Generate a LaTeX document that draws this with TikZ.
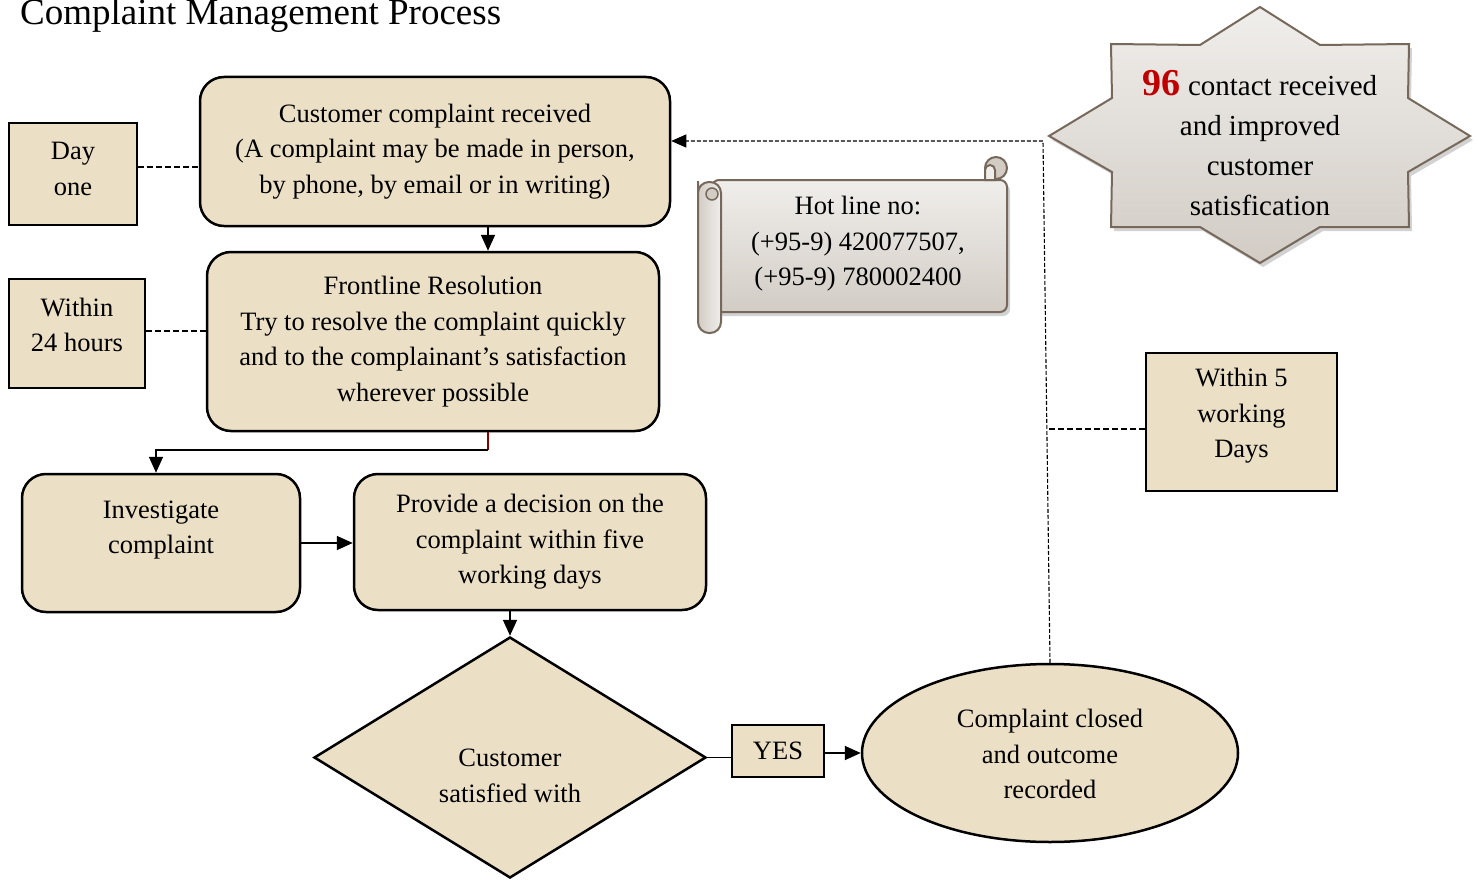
\documentclass[tikz,border=0pt]{standalone}
\usepackage{fontspec}
\setmainfont{Liberation Serif}
\usetikzlibrary{arrows.meta,shapes.geometric,shadows,calc}
\definecolor{tanfill}{HTML}{EBDFC6}
\definecolor{grayedge}{HTML}{76695B}
\definecolor{graytop}{HTML}{F0EEEB}
\definecolor{graybot}{HTML}{D2CCC5}
\definecolor{darkred}{HTML}{C00000}
\begin{document}
\begin{tikzpicture}[x=1pt,y=-1pt,
  txt/.style={align=center, font=\fontsize{26.5}{35.5}\selectfont, inner sep=0pt},
  box/.style={txt, draw=black, fill=tanfill, line width=2.5pt, rounded corners=24pt},
  sq/.style={txt, draw=black, fill=tanfill, line width=2.8pt},
  arr/.style={line width=1.8pt, -{Triangle[length=16pt,width=14pt]}},
  dsh/.style={line width=1.6pt, dash pattern=on 6pt off 3pt},
  fdsh/.style={line width=1.1pt, dash pattern=on 4pt off 2pt},
  grayshape/.style={draw=grayedge, line width=2pt, top color=graytop, bottom color=graybot,
    drop shadow={shadow xshift=3pt, shadow yshift=-4pt, opacity=0.35}}]
\useasboundingbox (0,0) rectangle (1478,880);
\fill[white] (0,0) rectangle (1478,880);

% title
\node[anchor=base west, inner sep=0pt, font=\fontsize{37}{40}\selectfont] (title) at (20,25) {Complaint Management Process};

% left timing boxes
\node[sq, minimum width=128pt, minimum height=102pt] (d1) at (73,174) {};
\node[txt] (d1t) at (73,169) {Day\\one};
\node[sq, minimum width=136pt, minimum height=109pt] (w24) at (77,333.5) {};
\node[txt] (w24t) at (77,325) {Within\\24 hours};

% main process boxes
\node[box, minimum width=470pt, minimum height=149pt] (b1) at (435,151.5)
  {Customer complaint received\\(A complaint may be made in person,\\by phone, by email or in writing)};
\node[box, minimum width=452pt, minimum height=179pt] (b2) at (433,341.5)
  {Frontline Resolution\\Try to resolve the complaint quickly\\and to the complainant’s satisfaction\\wherever possible};
\node[box, minimum width=278pt, minimum height=138pt] (b3) at (161,543) {};
\node[txt] (b3t) at (161,530) {Investigate\\complaint};
\node[box, minimum width=352pt, minimum height=136pt] (b4) at (530,542)
  {Provide a decision on the\\complaint within five\\working days};

% decision
\node[diamond, draw=black, fill=tanfill, line width=2.5pt, minimum width=392pt, minimum height=241pt, inner sep=0pt] (dia) at (510,757.5) {};
\node[txt] (diat) at (510,776) {Customer\\satisfied with};

% YES and ellipse
\node[txt, draw=black, fill=tanfill, line width=1.5pt, minimum width=92pt, minimum height=52pt] (yes) at (778,751) {YES};
\node[ellipse, draw=black, fill=tanfill, line width=2.5pt, minimum width=376pt, minimum height=178pt, inner sep=0pt] (ell) at (1050,753) {};
\node[txt] (ellt) at (1050,754) {Complaint closed\\and outcome\\recorded};

% within 5 working days
\node[sq, minimum width=191pt, minimum height=138pt] (w5) at (1241.5,422) {};
\node[txt] (w5t) at (1241.5,416) {Within 5\\working\\Days};

% star
\path[grayshape] (1111,44) -- (1200,45) -- (1260,7) -- (1320,45) -- (1409,44) -- (1408,98)
  -- (1470,136) -- (1408,172) -- (1409,227) -- (1320,227) -- (1260,263) -- (1200,227)
  -- (1111,227) -- (1112,172) -- (1049,136) -- (1112,98) -- cycle;
\node[align=center, inner sep=0pt, font=\fontsize{29}{40}\selectfont] (star) at (1260,143)
  {{\color{darkred}\fontsize{38}{40}\selectfont\bfseries 96} contact received\\and improved\\customer\\satisfication};

% scroll
\path[grayshape, rounded corners=7pt] (712,180) -- (1007,180) -- (1007,312) -- (712,312) -- cycle;
\path[draw=grayedge, line width=2pt, fill=graybot] (996,168) circle[radius=11];
\path[draw=grayedge, line width=2pt, fill=graytop] (985,180) -- (985,170) arc[start angle=180, end angle=360, radius=5] -- (995,180) -- cycle;
\path[draw=grayedge, line width=2pt, left color=graybot, right color=graytop, rounded corners=11pt]
  (698,192) -- (698,333) -- (721,333) -- (721,182) -- (698,182) -- cycle;
\path[draw=grayedge, line width=1.5pt, fill=graybot] (712,194) circle[radius=6];
\node[txt] (hot) at (858,244) {Hot line no:\\(+95-9) 420077507,\\(+95-9) 780002400};

% connectors
\coordinate (cx1) at (488,0);
\coordinate (cx3) at (156,450);
\draw[arr] (b1.south -| cx1) -- (b2.north -| cx1);
\draw[line width=1.2pt, darkred!70!black] (b2.south -| cx1) -- (cx1 |- cx3);
\draw[arr] (cx1 |- cx3) -- (cx3) -- (b3.north -| cx3);
\draw[arr] (b3.east) -- (b4.west |- b3.east);
\draw[arr] (b4.south -| dia.north) -- (dia.north);
\draw[line width=1.8pt] (dia.east) -- (yes.west |- dia.east);
\draw[arr] (yes.east |- ell.west) -- (ell.west);

\draw[dsh] (d1.east |- 0,167) -- (b1.west |- 0,167);
\draw[dsh] (w24.east |- 0,331) -- (b2.west |- 0,331);

\coordinate (fb) at (1043,141);
\draw[fdsh, -{Triangle[length=15pt,width=13pt]}] (ell.north) -- (fb) -- (b1.east |- fb);
\coordinate (w5j) at (1049,429);
\draw[dsh, line width=1.3pt] (w5j) -- (w5.west |- w5j);
\end{tikzpicture}
\end{document}
